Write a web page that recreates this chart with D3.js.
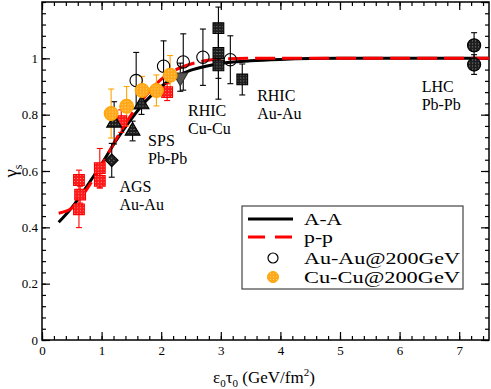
<!DOCTYPE html>
<html>
<head>
<meta charset="utf-8">
<script src="https://cdn.jsdelivr.net/npm/d3@7"></script>
<style>
  body { margin: 0; background: #fff; }
  svg text { font-family: "Liberation Serif", "Times New Roman", "DejaVu Serif", serif !important; }
</style>
</head>
<body>
<div class="chart"></div>
<script>
// curves: [x, gamma_s]
const aaCurve = [[0.28, 0.418], [0.5, 0.47], [0.75, 0.545], [1.0, 0.625], [1.25, 0.71], [1.5, 0.785],
    [1.75, 0.85], [2.0, 0.9], [2.25, 0.935], [2.5, 0.958], [2.75, 0.972], [3.0, 0.982], [3.5, 0.991],
    [4.0, 0.996], [4.5, 0.999], [5.0, 1.0], [7.5, 1.0]];
const ppCurve = [[0.28, 0.45], [0.5, 0.468], [0.75, 0.535], [1.0, 0.62], [1.25, 0.715], [1.5, 0.8],
    [1.75, 0.87], [2.0, 0.925], [2.25, 0.96], [2.5, 0.98], [2.75, 0.992], [3.0, 0.998], [3.5, 1.0], [7.5, 1.0]];

// data points: [x, y, error]
const agsSquares = [[0.62, 0.568, 0.035], [0.64, 0.516, 0.03], [0.62, 0.464, 0.065], [0.97, 0.61, 0.07],
    [0.97, 0.565, 0.025], [1.33, 0.777, 0.04], [2.1, 0.88, 0.03]];
const spsDiamond = [[1.17, 0.638, 0.06]];
const spsTriangles = [[1.21, 0.771, 0.075], [1.52, 0.742, 0.035], [1.67, 0.836, 0.035]];
const spsDown = [[2.32, 0.933, 0.05]];
const auauCircles = [[1.58, 0.921, 0.1], [2.04, 0.972, 0.09], [2.37, 0.987, 0.1], [2.7, 1.004, 0.1], [3.16, 0.995, 0.085]];
const cucuCircles = [[1.16, 0.804, 0.087], [1.42, 0.83, 0.07], [1.68, 0.886, 0.05], [1.92, 0.886, 0.055], [2.15, 0.94, 0.07]];
const rhicSquares = [[2.96, 1.107, 0.075], [2.96, 1.019, 0.09], [2.96, 0.975, 0.12], [3.36, 0.925, 0.055]];
const lhcCircles = [[7.25, 1.046, 0.045], [7.25, 0.978, 0.035]];

const annotations = [
    {x: 1.3, y: 0.525, lines: ["AGS", "Au-Au"]},
    {x: 1.78, y: 0.69, lines: ["SPS", "Pb-Pb"]},
    {x: 2.45, y: 0.797, lines: ["RHIC", "Cu-Cu"]},
    {x: 3.61, y: 0.847, lines: ["RHIC", "Au-Au"]},
    {x: 6.37, y: 0.882, lines: ["LHC", "Pb-Pb"]}
];
const legendLabels = ["A-A", "p-p", "Au-Au@200GeV", "Cu-Cu@200GeV"];

const width = 491, height = 389;
const margin = {top: 2, right: 2, bottom: 49, left: 42};
const plotW = width - margin.left - margin.right;
const plotH = height - margin.top - margin.bottom;

const svg = d3.select(".chart").append("svg")
    .attr("width", width)
    .attr("height", height)
    .attr("font-family", "Liberation Serif");

// hatched fills like the original markers
const defs = svg.append("defs");
function hatch(id, bg, fg) {
    const p = defs.append("pattern").attr("id", id)
        .attr("width", 3).attr("height", 3).attr("patternUnits", "userSpaceOnUse");
    p.append("rect").attr("width", 3).attr("height", 3).attr("fill", bg);
    p.append("rect").attr("x", 1).attr("y", 1).attr("width", 1).attr("height", 1).attr("fill", fg);
}
hatch("redHatch", "#ff1a1a", "#ff9a9a");
hatch("darkHatch", "#1e1e1e", "#8a8a8a");
hatch("orangeHatch", "#ffa81c", "#ffd27a");

const g = svg.append("g")
    .attr("transform", "translate(" + margin.left + "," + margin.top + ")");

const x = d3.scaleLinear().domain([0, 7.5]).range([0, plotW]);
const y = d3.scaleLinear().domain([0, 1.2]).range([plotH, 0]);

// minor ticks
const xMinor = d3.range(0, 7.5001, 0.2);
const yMinor = d3.range(0, 1.2001, 0.04);
g.append("g").attr("transform", "translate(0," + plotH + ")")
    .call(d3.axisBottom(x).tickValues(xMinor).tickSize(-4).tickFormat(""));
g.append("g")
    .call(d3.axisTop(x).tickValues(xMinor).tickSize(-4).tickFormat(""));
g.append("g")
    .call(d3.axisLeft(y).tickValues(yMinor).tickSize(-4).tickFormat(""));
g.append("g").attr("transform", "translate(" + plotW + ",0)")
    .call(d3.axisRight(y).tickValues(yMinor).tickSize(-4).tickFormat(""));

// major ticks
const xMajor = d3.range(0, 8, 1);
const yMajor = d3.range(0, 1.2001, 0.2);
g.append("g").attr("class", "xaxis").attr("transform", "translate(0," + plotH + ")")
    .call(d3.axisBottom(x).tickValues(xMajor).tickSize(-8).tickPadding(6).tickFormat(d3.format("d")));
g.append("g")
    .call(d3.axisTop(x).tickValues(xMajor).tickSize(-8).tickFormat(""));
g.append("g").attr("class", "yaxis")
    .call(d3.axisLeft(y).tickValues(yMajor.filter(v => v < 1.1)).tickSize(-8).tickPadding(4).tickFormat(d3.format("~g")));
g.append("g").attr("transform", "translate(" + plotW + ",0)")
    .call(d3.axisRight(y).tickValues(yMajor).tickSize(-8).tickFormat(""));

g.selectAll(".domain").remove();
g.selectAll("g").attr("font-family", null);
g.selectAll(".tick line").attr("stroke", "#000").attr("stroke-width", 1.2);
g.selectAll(".tick text").attr("font-size", 13).attr("fill", "#000");

g.append("rect")
    .attr("width", plotW).attr("height", plotH)
    .attr("fill", "none").attr("stroke", "#000").attr("stroke-width", 1.5);

// axis titles
const yTitle = svg.append("text")
    .attr("transform", "translate(17," + (margin.top + plotH / 2) + ") rotate(-90)")
    .attr("text-anchor", "middle")
    .attr("font-size", 19);
yTitle.append("tspan").text("γ");
yTitle.append("tspan").attr("font-size", 12).attr("dy", 5).text("s");

const xTitle = svg.append("text")
    .attr("x", 264).attr("y", 383)
    .attr("text-anchor", "middle")
    .attr("font-size", 17);
xTitle.append("tspan").text("ε");
xTitle.append("tspan").attr("font-size", 11).attr("dy", 4).text("0");
xTitle.append("tspan").attr("dy", -4).text("τ");
xTitle.append("tspan").attr("font-size", 11).attr("dy", 4).text("0");
xTitle.append("tspan").attr("dy", -4).text(" (GeV/fm");
xTitle.append("tspan").attr("font-size", 11).attr("dy", -7).text("2");
xTitle.append("tspan").attr("dy", 7).text(")");

// curves
const line = d3.line().x(d => x(d[0])).y(d => y(d[1])).curve(d3.curveMonotoneX);
g.append("path").datum(aaCurve)
    .attr("d", line).attr("fill", "none").attr("stroke", "#000").attr("stroke-width", 3);
g.append("path").datum(ppCurve)
    .attr("d", line).attr("fill", "none").attr("stroke", "#ff0000").attr("stroke-width", 3)
    .attr("stroke-dasharray", "20,7");

// error bars
function errorBars(data, color) {
    const eb = g.append("g").attr("stroke", color).attr("stroke-width", 1.1);
    data.forEach(d => {
        const cx = x(d[0]), top = y(d[1] + d[2]), bot = y(d[1] - d[2]);
        eb.append("line").attr("x1", cx).attr("x2", cx).attr("y1", top).attr("y2", bot);
        eb.append("line").attr("x1", cx - 3).attr("x2", cx + 3).attr("y1", top).attr("y2", top);
        eb.append("line").attr("x1", cx - 3).attr("x2", cx + 3).attr("y1", bot).attr("y2", bot);
    });
}
errorBars(agsSquares, "#ff0000");
errorBars(spsDiamond, "#000");
errorBars(spsTriangles, "#000");
errorBars(spsDown, "#000");
errorBars(auauCircles, "#000");
errorBars(cucuCircles, "#ffa500");
errorBars(rhicSquares, "#000");
errorBars(lhcCircles, "#000");

// markers
function markers(data, type, size, fill, stroke, rotate) {
    g.append("g").selectAll("path")
        .data(data)
        .join("path")
        .attr("transform", d => "translate(" + x(d[0]) + "," + y(d[1]) + ")" + (rotate ? " rotate(" + rotate + ")" : ""))
        .attr("d", d3.symbol().type(type).size(size))
        .attr("fill", fill)
        .attr("stroke", stroke)
        .attr("stroke-width", 1.1);
}
markers(agsSquares, d3.symbolSquare, 115, "url(#redHatch)", "#ff0000");
markers(spsDiamond, d3.symbolSquare, 80, "url(#darkHatch)", "#000", 45);
markers(spsTriangles, d3.symbolTriangle, 95, "url(#darkHatch)", "#000");
markers(spsDown, d3.symbolTriangle, 95, "#555", "#333", 180);
markers(auauCircles, d3.symbolCircle, 120, "none", "#000");
markers(cucuCircles, d3.symbolCircle, 150, "url(#orangeHatch)", "#ffa500");
markers(rhicSquares, d3.symbolSquare, 115, "url(#darkHatch)", "#000");
markers(lhcCircles, d3.symbolCircle, 135, "url(#darkHatch)", "#000");

// annotations, one text per line
annotations.forEach(a => {
    a.lines.forEach((s, i) => {
        g.append("text")
            .attr("x", x(a.x))
            .attr("y", y(a.y) + i * 18)
            .attr("font-size", 16)
            .attr("fill", "#000")
            .text(s);
    });
});

// legend
const leg = svg.append("g").attr("transform", "translate(242,206)");
leg.append("rect").attr("width", 221).attr("height", 83)
    .attr("fill", "#fff").attr("stroke", "#444").attr("stroke-width", 1.2);
const legRows = [13, 31, 52, 71];
const legWidths = [38, 29, 156, 156];
leg.append("line").attr("x1", 6).attr("x2", 51).attr("y1", legRows[0]).attr("y2", legRows[0])
    .attr("stroke", "#000").attr("stroke-width", 3);
leg.append("line").attr("x1", 6).attr("x2", 51).attr("y1", legRows[1]).attr("y2", legRows[1])
    .attr("stroke", "#ff0000").attr("stroke-width", 3).attr("stroke-dasharray", "17,10");
leg.append("circle").attr("cx", 31).attr("cy", legRows[2]).attr("r", 5)
    .attr("fill", "none").attr("stroke", "#000").attr("stroke-width", 1.2);
leg.append("circle").attr("cx", 31).attr("cy", legRows[3]).attr("r", 5.5)
    .attr("fill", "url(#orangeHatch)").attr("stroke", "#ffa500");
leg.selectAll("text.lab")
    .data(legendLabels)
    .join("text")
    .attr("class", "lab")
    .attr("x", 62)
    .attr("y", (d, i) => legRows[i] + 6)
    .attr("font-size", 16)
    .attr("textLength", (d, i) => legWidths[i])
    .attr("lengthAdjust", "spacingAndGlyphs")
    .text(d => d);
</script>
</body>
</html>
